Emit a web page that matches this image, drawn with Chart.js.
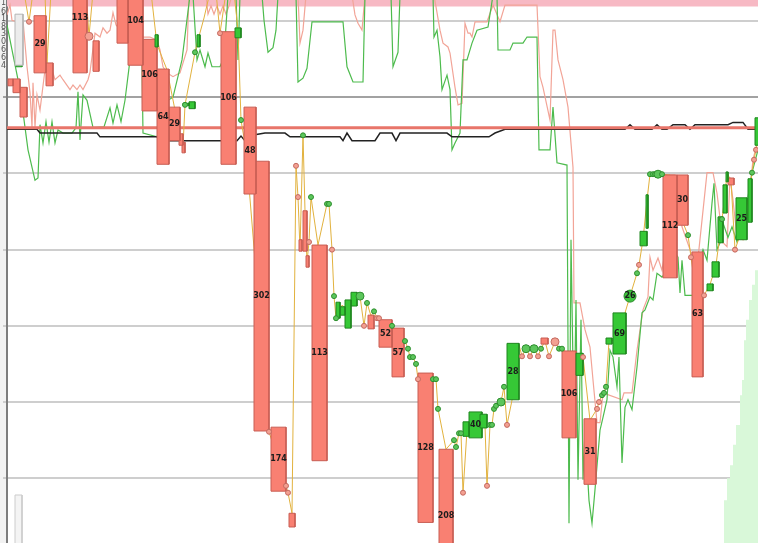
<!DOCTYPE html>
<html lang="en">
<head>
<meta charset="UTF-8" />
<title>Tape chart</title>
<script src="https://cdn.jsdelivr.net/npm/chart.js"></script>
<style>
  html, body { margin: 0; padding: 0; background: #fff; overflow: hidden; }
  canvas { display: block; }
</style>
</head>
<body>
<canvas id="chart" width="758" height="543"></canvas>
<script>
// x = time steps (0..150.2), y = price (grid every 10)
const gridLevels = [10, 20, 30, 40, 50, 60, 70];
const refLevel = 56.0;
const topBand = 72.35;
const edgeDigits = ['1', '6', '1', '8', '3', '0', '6', '6', '4'];
const edgeDigitY = [72.4, 71.2, 70.3, 69.2, 68.3, 67.2, 66.2, 65.1, 64.1];

// fast trace (green) and slow trace (pink)
const greenLine = [[0,69.5],[1.0,66.2],[2.6,61.0],[4.2,53.1],[5.6,49.1],[6.2,49.4],[6.6,56.4],[7.2,54.0],[7.8,56.8],[8.4,54.1],[9.0,56.8],[9.6,54.0],[10.2,55.7],[11.2,55.3],[13.0,55.3],[13.8,56.0],[14.2,60.7],[14.6,54.4],[15.2,60.3],[16.0,59.6],[17.2,56.0],[19.4,56.1],[20.6,58.6],[21.2,56.6],[22.0,59.0],[22.8,56.8],[23.6,59.6],[24.6,64.9],[25.6,69.5],[26.4,73.4],[26.8,73.4],[27.2,55.3],[30.0,54.8],[31.0,57.0],[32.2,59.6],[33.2,60.0],[35.0,64.9],[36.6,73.4],[37.2,73.4],[38.0,64.9],[38.6,66.2],[39.6,64.0],[40.2,65.8],[41.0,64.0],[42.6,64.0],[43.4,65.3],[44.2,73.4],[45.8,73.4],[46.2,64.9],[46.6,73.4],[51.0,73.4],[51.4,70.1],[52.2,65.9],[53.2,66.5],[53.8,68.8],[54.2,73.4],[57.8,73.4],[58.2,62.0],[59.2,62.5],[60.0,63.8],[61.0,69.9],[67.2,69.9],[68.0,64.0],[69.2,62.0],[71.2,62.0],[71.6,73.4],[76.8,73.4],[77.2,64.0],[78.2,65.9],[78.6,73.4],[85.2,73.4],[85.4,67.9],[86.0,68.8],[86.6,65.3],[87.0,61.0],[88.0,62.9],[88.6,61.0],[89.0,53.1],[89.6,54.0],[90.6,55.3],[91.2,64.9],[92.0,64.9],[93.0,67.1],[94.0,68.8],[96.2,69.2],[97.2,73.4],[98.0,73.4],[98.2,66.2],[100.6,66.2],[101.2,67.1],[103.2,67.1],[104.0,67.9],[106.0,67.9],[106.4,53.1],[108.6,53.1],[109.2,58.7],[110.0,51.4],[112.0,51.1],[112.4,4.1],[112.8,41.3],[113.4,16.3],[113.8,33.4],[114.2,9.8],[114.8,30.8],[115.2,9.8],[115.6,16.3],[116.4,7.1],[117.0,4.1],[117.6,8.5],[118.6,16.3],[119.2,18.0],[120.0,20.3],[120.6,26.8],[121.2,25.9],[122.0,22.0],[122.4,25.9],[123.0,12.0],[123.6,19.3],[124.2,20.3],[125.0,19.0],[126.0,24.6],[127.0,31.7],[127.6,32.1],[128.6,33.8],[129.2,33.4],[130.0,36.9],[131.0,36.4],[132.6,37.7],[133.2,40.0],[134.2,39.0],[134.6,34.3],[135.0,38.6],[135.6,34.0],[138.0,34.0],[138.6,38.6],[139.2,40.0],[140.0,38.6],[141.0,46.1],[141.4,48.7],[142.0,40.0],[142.6,40.9],[143.2,43.5],[144.2,41.6],[145.0,43.0],[146.0,41.0],[147.0,42.6],[148.0,46.1],[149.0,50.1],[150.2,53.1]];

const pinkLine = [[0,70.8],[0.6,72.1],[1.0,70.1],[2.0,69.9],[3.2,70.1],[4.0,64.0],[4.6,60.6],[5.0,56.1],[5.2,61.9],[5.6,56.1],[6.0,60.3],[6.6,58.3],[7.6,63.6],[9.2,63.2],[9.6,62.3],[10.6,62.9],[11.2,62.3],[12.6,61.0],[13.2,61.6],[14.0,61.0],[14.6,61.6],[15.2,61.0],[16.2,62.3],[16.6,63.3],[17.6,68.4],[18.6,67.9],[19.2,69.1],[20.0,68.4],[20.6,68.8],[21.2,71.1],[21.8,69.5],[23.6,68.2],[26.2,67.9],[28.6,67.9],[30.0,67.5],[30.6,66.2],[31.2,64.0],[32.0,63.2],[33.2,62.7],[34.6,63.2],[36.0,66.2],[36.4,73.4],[39.8,73.4],[40.2,70.9],[40.8,72.0],[41.4,70.9],[42.0,72.0],[42.6,70.9],[43.2,72.0],[43.8,70.9],[44.4,72.0],[45.0,73.4],[58.2,73.4],[58.6,67.1],[59.2,68.8],[59.8,73.4],[69.0,73.4],[69.6,70.8],[70.2,69.7],[71.0,68.8],[71.6,73.4],[85.4,73.4],[86.6,68.8],[87.2,67.1],[88.2,66.6],[88.6,65.8],[89.6,61.3],[90.2,59.0],[91.0,59.2],[91.6,69.7],[92.2,68.4],[92.6,68.4],[93.0,67.9],[93.6,69.9],[96.0,69.9],[97.2,72.1],[98.6,69.9],[99.6,72.1],[106.0,72.1],[106.6,62.7],[107.2,61.3],[108.6,57.0],[109.2,68.8],[109.6,68.8],[110.2,64.9],[111.2,62.3],[112.2,58.7],[113.2,50.8],[113.4,33.0],[114.6,33.0],[115.6,29.5],[116.6,27.2],[117.2,22.9],[118.0,17.3],[118.6,17.3],[119.2,21.2],[123.0,20.3],[123.4,21.2],[125.0,21.2],[126.0,26.8],[127.2,32.1],[128.2,33.8],[128.6,39.0],[129.2,37.3],[130.2,38.9],[131.0,37.3],[132.0,41.3],[132.6,49.8],[133.6,49.8],[135.0,43.0],[136.6,40.0],[138.0,37.6],[140.0,50.1],[141.2,50.1],[142.0,47.4],[143.2,40.9],[144.0,40.4],[144.6,49.5],[145.2,46.5],[146.0,41.7],[147.2,41.3],[148.2,45.2],[149.2,51.8],[150.2,54.4]];

// average (black) trace
const blackLine = [[0,55.8],[6.0,55.8],[6.6,55.3],[18.0,55.3],[18.6,54.8],[30.0,54.8],[30.6,54.3],[46.0,54.3],[46.8,54.9],[47.6,54.3],[49.0,55.0],[51.6,55.3],[55.6,55.3],[56.6,54.8],[66.6,54.8],[67.2,54.3],[68.0,55.3],[69.0,54.3],[73.6,54.3],[74.6,55.3],[77.0,55.3],[77.8,54.3],[78.6,55.3],[88.0,55.3],[89.0,54.8],[96.4,54.8],[97.6,55.3],[99.6,55.8],[123.6,55.8],[124.6,56.4],[125.6,55.8],[129.0,55.8],[130.0,56.4],[131.0,55.8],[132.0,55.8],[133.2,56.4],[135.6,56.4],[136.6,55.8],[137.6,56.4],[144.2,56.4],[145.2,56.7],[147.2,56.7],[148.2,55.8],[149.6,55.8]];

// trade path: [x, price, tick]  u/d = up/down tick, U/D = large
const pathPts = [[3.4,73.8,''],[4.4,69.9,'d'],[5.2,73.8,''],[7.6,73.8,''],[8.0,64.5,''],[8.8,73.8,''],[15.8,73.8,''],[16.4,68.0,'D'],[17.2,73.8,''],[28.8,73.8,''],[29.8,68.0,''],[30.2,66.6,''],[32.0,63.6,''],[34.6,55.0,''],[35.2,53.5,''],[35.6,59.0,'u'],[37.6,65.9,'u'],[38.2,67.5,''],[39.4,70.4,''],[40.6,73.8,''],[41.8,73.8,''],[42.6,68.4,'d'],[43.8,73.8,''],[45.4,73.8,''],[46.2,68.8,''],[46.8,57.0,'u'],[47.8,53.1,''],[52.4,16.1,'d'],[55.8,9.0,'d'],[56.2,8.1,'d'],[57.0,5.4,''],[57.8,51.0,'d'],[58.2,46.9,'d'],[58.6,40.0,''],[59.2,55.0,'u'],[59.6,45.1,''],[60.0,38.4,''],[60.4,41.0,'d'],[60.8,46.9,'u'],[62.2,40.6,''],[64.0,46.0,'u'],[64.4,46.0,'u'],[65.0,40.0,'d'],[65.4,33.9,'u'],[65.8,31.0,'u'],[67.0,32.7,''],[68.2,32.1,''],[69.4,33.7,''],[70.6,33.9,'U'],[71.4,30.0,'d'],[72.0,33.0,'u'],[72.8,31.3,''],[73.4,31.9,'u'],[74.0,31.0,'d'],[74.4,31.0,'d'],[77.0,30.0,'u'],[79.6,28.0,'u'],[80.2,27.0,'u'],[80.6,25.9,'u'],[81.2,25.9,'u'],[81.8,25.0,'u'],[82.2,23.0,'d'],[85.2,23.0,'u'],[85.8,23.0,'u'],[86.2,19.1,'u'],[87.8,13.8,''],[89.4,15.0,'u'],[89.8,14.1,'u'],[90.4,15.9,'u'],[90.8,15.9,'u'],[91.2,8.1,'d'],[92.0,16.3,''],[95.0,18.3,''],[95.6,16.9,''],[96.0,9.0,'d'],[96.6,17.0,'u'],[97.0,17.0,'u'],[97.4,19.1,'u'],[97.8,19.5,'u'],[98.8,20.0,'U'],[99.4,22.0,'u'],[100.0,17.0,'d'],[101.2,20.9,''],[102.4,27.5,''],[103.0,26.0,'d'],[103.8,27.0,'U'],[104.6,26.0,'d'],[105.4,27.0,'U'],[106.2,26.0,'d'],[106.8,27.0,'u'],[107.6,28.0,''],[108.4,26.0,'d'],[109.6,27.9,'D'],[110.4,27.0,'u'],[111.0,27.0,'u'],[113.8,25.5,''],[115.2,25.9,'d'],[116.6,17.6,''],[118.0,19.1,'d'],[118.4,20.0,'d'],[119.0,20.9,'u'],[119.4,21.2,'u'],[119.8,22.0,'u'],[120.4,28.0,''],[121.4,28.1,''],[123.6,31.7,''],[124.6,33.9,''],[126.0,36.9,'u'],[126.4,38.0,'d'],[127.2,41.3,''],[128.0,46.5,''],[128.6,49.9,'u'],[129.2,49.9,'u'],[129.6,49.9,'u'],[130.2,49.9,'U'],[131.0,49.9,'u'],[132.6,49.8,''],[135.4,43.2,''],[136.2,41.9,'u'],[136.8,39.0,'d'],[138.0,33.4,''],[139.4,34.0,'d'],[140.6,35.4,''],[141.8,38.0,''],[143.0,44.0,'u'],[143.6,47.2,''],[144.0,50.1,''],[144.8,49.0,''],[145.6,40.0,'d'],[147.0,42.6,''],[148.6,47.8,''],[149.0,50.1,'u'],[149.4,51.8,'d'],[149.8,53.1,'d'],[150.2,54.4,'']];

const bubble = [124.6, 33.9, '26'];

// blocks: [xStart, xEnd, low, high, volume label]
const downBoxes = [[0.2,1.2,61.5,62.4,''],[1.2,2.6,60.6,62.4,''],[2.6,4.0,57.4,61.3,''],[5.4,7.8,63.2,70.7,'29'],[7.8,9.2,61.5,64.5,''],[13.2,16.0,63.2,77.6,'113'],[17.2,18.4,63.4,67.4,''],[22.0,24.2,67.1,73.4,''],[24.2,27.2,64.2,75.8,'104'],[27.0,30.0,58.2,67.6,'106'],[30.0,32.4,51.2,63.7,'64'],[32.4,34.6,54.3,58.7,'29'],[34.4,35.2,53.7,55.2,''],[35.0,35.6,52.7,54.1,''],[42.8,45.8,51.2,68.6,'106'],[47.4,49.8,47.3,58.7,'48'],[49.4,52.4,16.2,51.6,'302'],[52.8,55.8,8.3,16.7,'174'],[56.4,57.6,3.6,5.4,''],[58.4,59.0,39.8,41.3,''],[59.2,60.0,39.8,45.1,''],[59.8,60.4,37.7,39.2,''],[61.0,64.0,12.3,40.6,'113'],[72.2,73.4,29.6,31.4,''],[74.4,77.0,27.2,30.8,'52'],[77.0,79.4,23.3,29.7,'57'],[82.2,85.2,4.2,23.8,'128'],[86.4,89.2,-3.7,13.8,'208'],[106.8,108.2,27.6,28.4,''],[111.0,113.8,15.3,26.7,'106'],[115.4,117.8,9.2,17.8,'31'],[131.2,134.0,36.3,49.8,'112'],[134.0,136.2,43.2,49.8,'30'],[137.0,139.2,23.3,39.7,'63'],[144.2,145.4,48.5,49.4,'']];

const upBoxes = [[29.6,30.2,66.6,68.2,''],[35.2,36.4,58.9,59.2,''],[36.4,37.6,58.5,59.4,''],[38.0,38.6,66.6,68.2,''],[45.6,46.8,67.8,69.1,''],[65.8,66.6,31.0,33.1,''],[66.2,67.6,31.4,32.5,''],[67.6,68.8,29.7,33.4,''],[68.8,70.0,32.6,34.4,''],[91.2,92.4,15.5,17.4,''],[94.6,96.0,16.6,18.4,''],[92.4,95.0,15.3,18.7,'40'],[100.0,102.4,20.3,27.7,'28'],[113.8,115.2,23.5,26.4,''],[119.8,121.0,27.6,28.4,''],[121.2,123.8,26.3,31.7,'69'],[126.6,128.0,40.5,42.4,''],[127.8,128.2,42.8,47.2,''],[140.0,141.2,34.6,35.5,''],[141.0,142.4,36.4,38.4,''],[142.2,143.2,40.9,44.3,''],[143.2,144.0,44.8,48.5,''],[143.8,144.2,48.9,50.2,''],[145.8,148.0,41.3,46.8,'25'],[148.2,149.0,43.6,49.3,''],[149.6,150.6,53.7,57.3,'']];

// depth area at the right edge
const depthArea = [[143.0,1.2],[143.4,7.1],[144.0,10.0],[144.6,11.7],[145.2,14.4],[145.8,17.0],[146.6,20.9],[147.0,22.9],[147.4,28.1],[147.8,30.8],[148.4,33.4],[149.0,35.4],[149.6,37.3],[150.2,39.6]];

// little scroll widgets on the left
const widgets = [[1.6,3.2,64.2,70.9,'#ececec','#b5b5b5'],[1.8,3.0,64.0,64.5,'#3cbf3c','#2a9a2a'],[1.6,3.0,1.2,7.8,'#f4f4f4','#cccccc']];

const pts = arr => arr.map(p => ({x: p[0], y: p[1]}));

function boxSet(b, fill, stroke, order) {
  const [x0, x1, lo, hi] = b;
  return {
    data: [{x:x0,y:lo},{x:x0,y:hi},{x:x1,y:hi},{x:x1,y:lo},{x:x0,y:lo}],
    fill: 'shape', backgroundColor: fill, borderColor: stroke, borderWidth: 1,
    pointRadius: 0, order: order
  };
}

const marks = pathPts.filter(p => p[2] !== '');
const markColor = t => (t === 'u' || t === 'U') ? '#5cc65c' : '#f3a092';
const markEdge = t => (t === 'u' || t === 'U') ? '#2f8f2f' : '#c46a60';

const datasets = [
  { data: [{x:0,y:topBand},{x:150.2,y:topBand}], borderColor: '#f7b9c4', borderWidth: 7, pointRadius: 0, order: 12 },
  { data: pts(depthArea), fill: 'start', stepped: true, backgroundColor: '#d9f8d9', borderWidth: 0, pointRadius: 0, order: 11 },
  { data: pts(pinkLine), borderColor: '#f2a497', borderWidth: 1.2, pointRadius: 0, order: 10 },
  { data: pts(greenLine), borderColor: '#4dbb4d', borderWidth: 1.2, pointRadius: 0, order: 9 },
  { data: pts(blackLine), borderColor: '#222222', borderWidth: 1.5, pointRadius: 0, order: 8 },
  { data: [{x:0,y:refLevel},{x:150.2,y:refLevel}], borderColor: '#e8756a', borderWidth: 3, pointRadius: 0, order: 7 },
  { data: pathPts.map(p => ({x: p[0], y: p[1]})), borderColor: '#e2b23e', borderWidth: 1, pointRadius: 0, order: 6 },
  { data: marks.map(p => ({x: p[0], y: p[1]})), showLine: false, order: 2,
    pointRadius: c => (marks[c.dataIndex][2] === 'U' || marks[c.dataIndex][2] === 'D') ? 4 : 2.5,
    pointBackgroundColor: c => markColor(marks[c.dataIndex][2]),
    pointBorderColor: c => markEdge(marks[c.dataIndex][2]),
    pointBorderWidth: 1 },
  { data: [{x: bubble[0], y: bubble[1]}], showLine: false, order: 1,
    pointRadius: 6, pointBackgroundColor: '#3ec23e', pointBorderColor: '#268a26', pointBorderWidth: 1 }
];
downBoxes.forEach(b => datasets.push(boxSet(b, '#f98072', '#c85e54', 4)));
upBoxes.forEach(b => datasets.push(boxSet(b, '#36c836', '#1f861f', 3)));
widgets.forEach(w => datasets.push(boxSet(w, w[4], w[5], 5)));

const decor = {
  id: 'decor',
  beforeDraw(chart) {
    const {ctx, chartArea} = chart;
    ctx.save();
    ctx.fillStyle = '#ffffff';
    ctx.fillRect(0, 0, chart.width, chart.height);
    ctx.fillStyle = '#f2f2f2';
    ctx.fillRect(0, 0, chartArea.left - 1, chart.height);
    ctx.restore();
  },
  afterDraw(chart) {
    const {ctx, chartArea, scales: {x, y}} = chart;
    ctx.save();
    ctx.font = '8px "DejaVu Sans", sans-serif';
    ctx.fillStyle = '#555';
    ctx.textAlign = 'right';
    ctx.textBaseline = 'middle';
    edgeDigits.forEach((d, i) => ctx.fillText(d, chartArea.left - 1, y.getPixelForValue(edgeDigitY[i])));
    ctx.font = 'bold 8px "DejaVu Sans", sans-serif';
    ctx.fillStyle = '#1c1c1c';
    ctx.textAlign = 'center';
    downBoxes.concat(upBoxes).forEach(b => {
      if (!b[4]) return;
      ctx.fillText(b[4], x.getPixelForValue((b[0] + b[1]) / 2), y.getPixelForValue((b[2] + b[3]) / 2));
    });
    ctx.fillText(bubble[2], x.getPixelForValue(bubble[0]), y.getPixelForValue(bubble[1]));
    ctx.restore();
  }
};

new Chart(document.getElementById('chart'), {
  type: 'line',
  data: { datasets },
  options: {
    responsive: false,
    devicePixelRatio: 1,
    animation: false,
    events: [],
    layout: { padding: 0, autoPadding: false },
    plugins: { legend: { display: false }, tooltip: { enabled: false } },
    scales: {
      x: { type: 'linear', min: 0, max: 150.2, display: false },
      y: {
        type: 'linear', min: 1.5, max: 72.76,
        afterFit(s) { s.width = 7; },
        afterBuildTicks(s) { s.ticks = gridLevels.map(v => ({ value: v })); },
        ticks: { display: false },
        grid: {
          color: c => (c.tick && c.tick.value === 60) ? '#a2a2a2' : '#cecece',
          lineWidth: 2, tickLength: 4, drawTicks: true
        },
        border: { display: true, color: '#7d7d7d', width: 2 }
      }
    }
  },
  plugins: [decor]
});
</script>
</body>
</html>
